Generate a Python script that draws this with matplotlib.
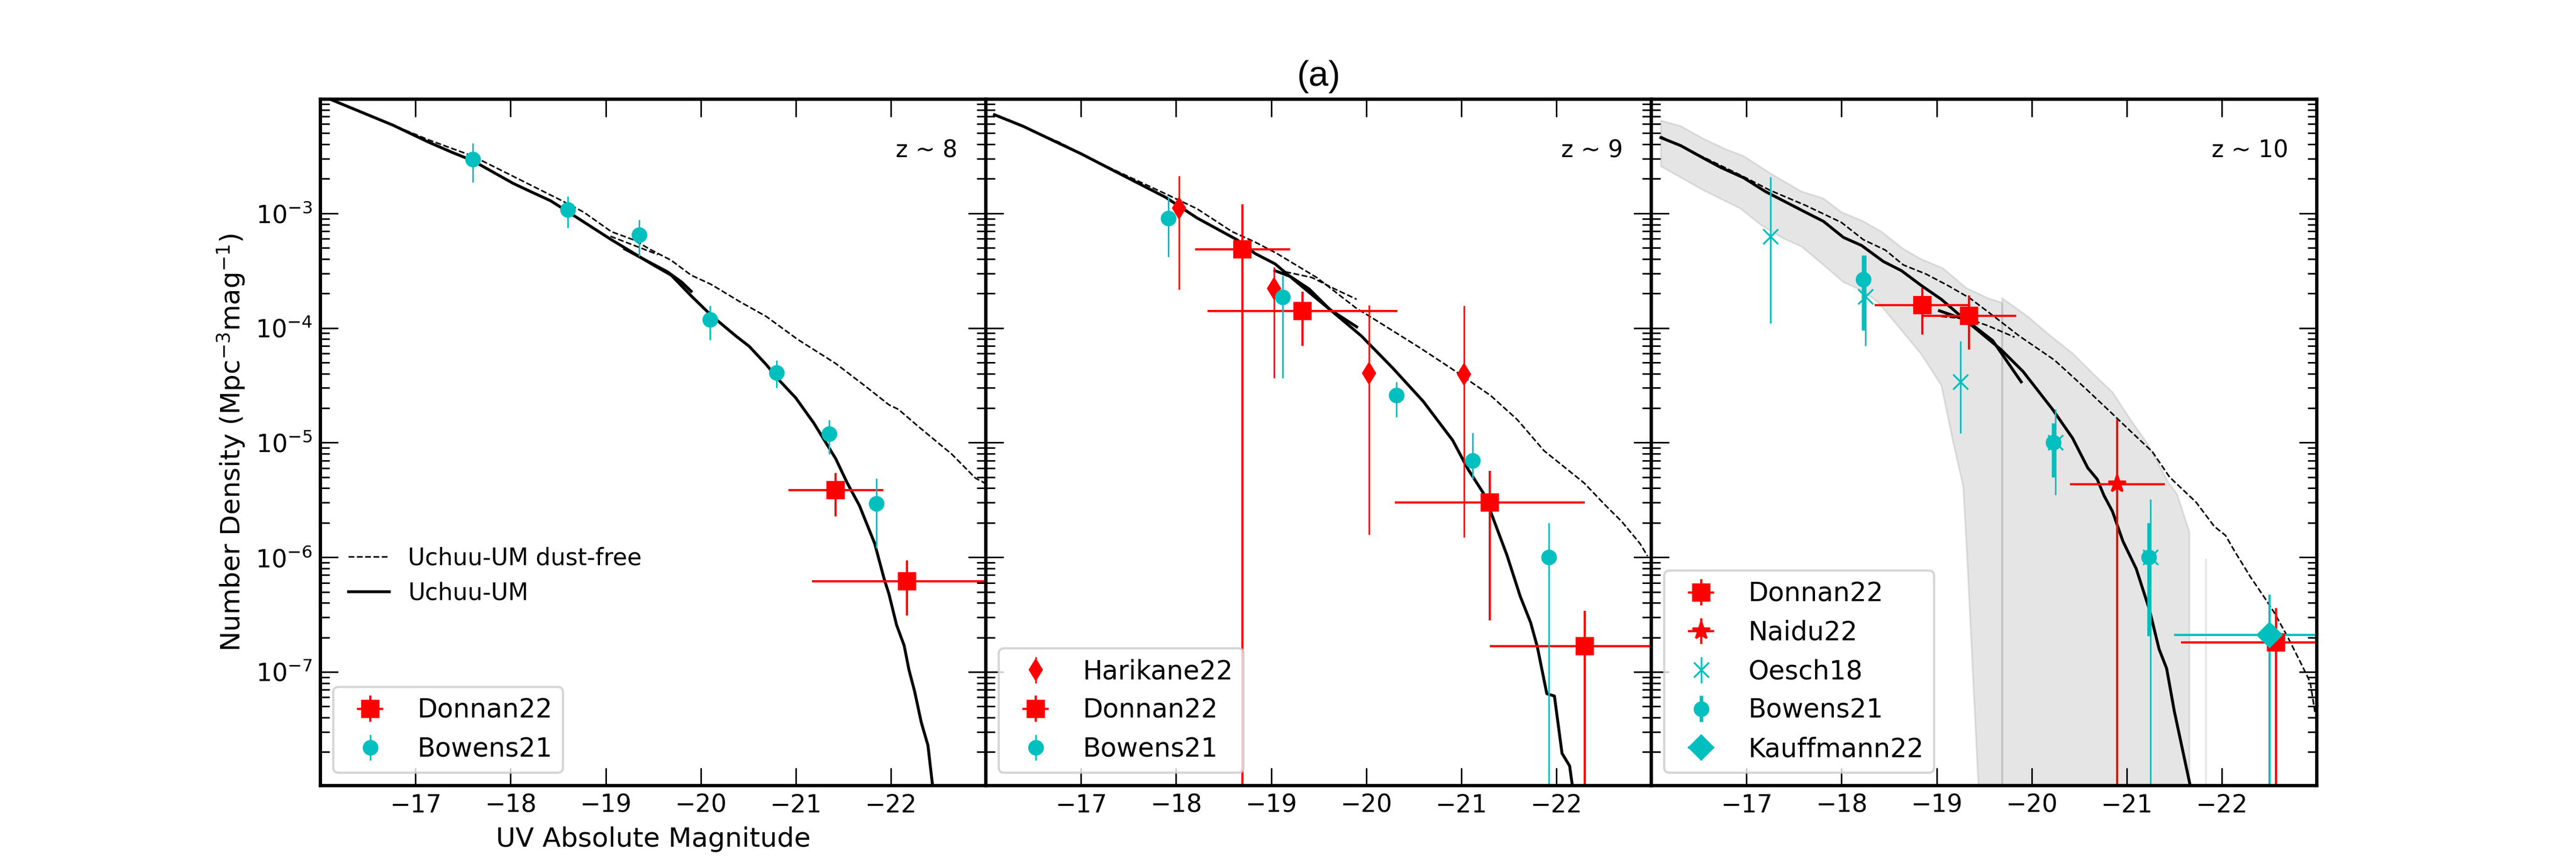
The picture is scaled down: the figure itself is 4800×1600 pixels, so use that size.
import numpy as np
import matplotlib
matplotlib.use('Agg')
import matplotlib.pyplot as plt

# ---------------- model curves: UV magnitude and log10(number density) ----------------
z8_um_M = [-16.00, -16.76, -17.14, -17.39, -17.60, -18.03, -18.21, -18.42, -18.61, -19.06, -19.48,
           -19.69, -19.90, -20.11, -20.37, -20.51, -20.69, -20.83, -21.00, -21.19, -21.42, -21.54,
           -21.67, -21.83, -21.93, -21.98, -22.06, -22.14, -22.19, -22.25, -22.32, -22.39, -22.44]
z8_um_logphi = [-1.97, -2.23, -2.38, -2.47, -2.54, -2.74, -2.81, -2.89, -2.99, -3.23, -3.44,
                -3.54, -3.72, -3.89, -4.07, -4.16, -4.32, -4.46, -4.61, -4.83, -5.14, -5.35,
                -5.55, -5.88, -6.19, -6.32, -6.59, -6.77, -6.98, -7.17, -7.44, -7.64, -8.00]
z8_um2_M = [-19.20, -19.40, -19.65, -19.80, -19.90]
z8_um2_logphi = [-3.31, -3.40, -3.51, -3.60, -3.68]
z8_df_M = [-16.00, -17.14, -17.60, -18.54, -18.77, -19.06, -19.29, -19.48, -19.69, -19.90, -20.11,
           -20.41, -20.69, -21.02, -21.42, -21.72, -21.98, -22.08, -22.29, -22.64, -22.89, -22.96, -23.00]
z8_df_logphi = [-1.97, -2.36, -2.50, -2.89, -2.99, -3.16, -3.23, -3.32, -3.41, -3.54, -3.62,
                -3.77, -3.90, -4.10, -4.31, -4.50, -4.67, -4.71, -4.86, -5.10, -5.31, -5.34, -5.36]
z8_df2_M = [-19.05, -19.30, -19.55]
z8_df2_logphi = [-3.20, -3.28, -3.36]

z9_um_M = [-16.09, -16.39, -16.77, -17.00, -17.42, -17.89, -18.22, -18.64, -18.83, -19.04, -19.27,
           -19.62, -19.95, -20.28, -20.60, -20.91, -21.07, -21.24, -21.48, -21.62, -21.73, -21.80,
           -21.90, -21.98, -22.06, -22.14, -22.17]
z9_um_logphi = [-2.14, -2.24, -2.39, -2.48, -2.66, -2.86, -3.04, -3.23, -3.35, -3.44, -3.60,
                -3.84, -4.07, -4.35, -4.64, -4.98, -5.23, -5.45, -5.98, -6.34, -6.57, -6.78,
                -7.19, -7.21, -7.71, -7.82, -8.00]
z9_um2_M = [-19.04, -19.20, -19.40, -19.62, -19.90]
z9_um2_logphi = [-3.50, -3.55, -3.66, -3.84, -3.99]
z9_df_M = [-16.09, -16.77, -17.19, -17.89, -18.22, -18.59, -18.83, -19.06, -19.48, -19.90, -20.02,
           -20.56, -20.89, -21.31, -21.59, -21.87, -22.29, -22.52, -22.69, -22.88, -22.96]
z9_df_logphi = [-2.14, -2.38, -2.56, -2.83, -2.96, -3.16, -3.25, -3.35, -3.56, -3.83, -3.89,
                -4.17, -4.35, -4.59, -4.80, -5.07, -5.35, -5.55, -5.69, -5.88, -5.99]
z9_df2_M = [-19.15, -19.43, -19.67, -19.90]
z9_df2_logphi = [-3.51, -3.56, -3.66, -3.75]

z10_um_M = [-16.10, -16.31, -16.55, -16.73, -16.97, -17.20, -17.62, -17.81, -18.02, -18.21, -18.44,
            -18.63, -18.84, -19.05, -19.33, -19.68, -19.91, -20.22, -20.43, -20.59, -20.69, -20.76,
            -20.85, -20.96, -21.10, -21.24, -21.34, -21.42, -21.50, -21.59, -21.67]
z10_um_logphi = [-2.34, -2.41, -2.52, -2.60, -2.69, -2.81, -2.99, -3.07, -3.21, -3.28, -3.42,
                 -3.50, -3.63, -3.75, -3.95, -4.19, -4.38, -4.71, -4.96, -5.22, -5.32, -5.46,
                 -5.60, -5.86, -6.10, -6.46, -6.80, -6.97, -7.34, -7.69, -8.00]
z10_um2_M = [-19.03, -19.31, -19.59, -19.89]
z10_um2_logphi = [-3.85, -3.93, -4.11, -4.47]
z10_df_M = [-16.10, -16.97, -17.25, -17.62, -18.00, -18.23, -18.46, -18.65, -18.89, -19.12, -19.35,
            -19.59, -19.87, -20.24, -20.57, -20.80, -21.04, -21.27, -21.45, -21.73, -21.92, -22.04,
            -22.13, -22.30, -22.44, -22.55, -22.69, -22.83, -22.93, -22.98]
z10_df_logphi = [-2.33, -2.68, -2.80, -2.93, -3.08, -3.23, -3.32, -3.45, -3.53, -3.63, -3.74,
                 -3.89, -4.07, -4.28, -4.53, -4.71, -4.90, -5.08, -5.30, -5.52, -5.73, -5.81,
                 -5.94, -6.17, -6.34, -6.48, -6.69, -6.92, -7.09, -7.35]
z10_df2_M = [-19.05, -19.33, -19.54, -19.82]
z10_df2_logphi = [-3.90, -3.92, -3.98, -4.08]

# uncertainty band (z~10), log10 phi ; -8.5 = below the plotted range
band1_up_M = [-16.10, -16.31, -16.55, -16.78, -16.97, -17.25, -17.58, -17.81, -18.00, -18.23,
              -18.42, -18.65, -18.84, -19.07, -19.31, -19.54, -19.69]
band1_up_logphi = [-2.19, -2.24, -2.35, -2.44, -2.50, -2.65, -2.81, -2.87, -2.99, -3.07,
                   -3.16, -3.31, -3.40, -3.48, -3.65, -3.74, -3.78]
band1_lo_M = [-16.10, -16.55, -16.94, -17.15, -17.39, -17.58, -17.81, -18.02, -18.23, -18.39,
              -18.60, -18.84, -19.05, -19.17, -19.28, -19.32, -19.47, -19.69]
band1_lo_logphi = [-2.59, -2.80, -2.96, -3.10, -3.22, -3.29, -3.45, -3.60, -3.68, -3.78,
                   -3.99, -4.23, -4.50, -4.98, -5.38, -5.98, -8.50, -8.50]
band2_up_M = [-19.69, -19.96, -20.20, -20.43, -20.66, -20.85, -21.04, -21.22, -21.44, -21.53, -21.66]
band2_up_logphi = [-3.74, -3.90, -4.07, -4.22, -4.41, -4.56, -4.80, -5.01, -5.35, -5.45, -5.78]
band2_lo_M = [-19.69, -21.66]
band2_lo_logphi = [-8.50, -8.50]
band3_M = [-21.83, -21.83]
band3_logphi = [-6.02, -8.50]

# ---------------- observational data ----------------
BOTTOM = 1e-9  # error bar extends below the plotted range

z8_bow_M = [-17.60, -18.60, -19.35, -20.10, -20.80, -21.35, -21.85]
z8_bow_phi = [2.96e-3, 1.08e-3, 6.5e-4, 1.18e-4, 4.07e-5, 1.19e-5, 2.94e-6]
z8_bow_hi = [4.1e-3, 1.41e-3, 8.8e-4, 1.57e-4, 5.2e-5, 1.58e-5, 4.9e-6]
z8_bow_lo = [1.86e-3, 7.5e-4, 4.2e-4, 7.9e-5, 3.0e-5, 7.9e-6, 1.2e-6]

z8_don_M = [-21.42, -22.17]
z8_don_phi = [3.87e-6, 6.2e-7]
z8_don_xerr = [0.5, 1.0]
z8_don_hi = [5.46e-6, 9.4e-7]
z8_don_lo = [2.28e-6, 3.1e-7]

z9_har_M = [-18.03, -19.03, -20.03, -21.03]
z9_har_phi = [1.11e-3, 2.21e-4, 4.02e-5, 3.94e-5]
z9_har_hi = [2.13e-3, 3.4e-4, 1.58e-4, 1.56e-4]
z9_har_lo = [2.17e-4, 3.67e-5, 1.58e-6, 1.5e-6]

z9_don_M = [-18.70, -19.33, -21.30, -22.30]
z9_don_phi = [4.85e-4, 1.41e-4, 3.0e-6, 1.68e-7]
z9_don_xerr = [0.5, 1.0, 1.0, 1.0]
z9_don_hi = [1.2e-3, 2.07e-4, 5.7e-6, 3.4e-7]
z9_don_lo = [BOTTOM, 6.97e-5, 2.8e-7, BOTTOM]

z9_bow_M = [-17.92, -19.12, -20.32, -21.12, -21.92]
z9_bow_phi = [9.1e-4, 1.85e-4, 2.6e-5, 6.95e-6, 1.0e-6]
z9_bow_hi = [1.39e-3, 2.86e-4, 3.4e-5, 1.22e-5, 2.0e-6]
z9_bow_lo = [4.17e-4, 3.67e-5, 1.67e-5, 4.85e-6, BOTTOM]

z10_don_M = [-18.85, -19.34, -22.57]
z10_don_phi = [1.59e-4, 1.28e-4, 1.8e-7]
z10_don_xerr = [0.5, 0.5, 1.0]
z10_don_hi = [2.24e-4, 1.93e-4, 3.6e-7]
z10_don_lo = [8.75e-5, 6.5e-5, BOTTOM]

z10_nai_M = [-20.90]
z10_nai_phi = [4.35e-6]
z10_nai_xerr = [0.5]
z10_nai_hi = [1.6e-5]
z10_nai_lo = [BOTTOM]

z10_oes_M = [-17.25, -18.25, -19.25, -20.25, -21.25]
z10_oes_phi = [6.3e-4, 1.89e-4, 3.38e-5, 1.0e-5, 1.0e-6]
z10_oes_hi = [2.07e-3, 4.3e-4, 7.7e-5, 1.95e-5, 3.2e-6]
z10_oes_lo = [1.1e-4, 7.0e-5, 1.2e-5, 3.5e-6, BOTTOM]

z10_bow_M = [-18.23, -20.23, -21.23]
z10_bow_phi = [2.65e-4, 1.0e-5, 1.0e-6]
z10_bow_hi = [4.3e-4, 1.48e-5, 2.0e-6]
z10_bow_lo = [9.5e-5, 5.0e-6, 2.06e-7]

z10_kau_M = [-22.50]
z10_kau_phi = [2.1e-7]
z10_kau_xerr = [1.0]
z10_kau_hi = [4.7e-7]
z10_kau_lo = [BOTTOM]

panel_labels = ['z ~ 8', 'z ~ 9', 'z ~ 10']
xticks = [-17, -18, -19, -20, -21, -22]

# ---------------- figure ----------------
plt.rcParams['font.family'] = ['DejaVu Sans']
fig, axes = plt.subplots(1, 3, figsize=(16, 16 / 3), dpi=300, sharey=True)
fig.subplots_adjust(left=0.1244, right=0.8994, bottom=0.0844, top=0.8844, wspace=0)

RED = 'r'
CYAN = 'c'
UM_LW = 1.3
DF_LW = 0.7


def tenpow(a):
    return 10.0 ** np.asarray(a)


def ebar(ax, M, phi, lo, hi, xerr=None, **kw):
    phi = np.asarray(phi)
    yerr = [phi - np.asarray(lo), np.asarray(hi) - phi]
    return ax.errorbar(M, phi, xerr=xerr, yerr=yerr, linestyle='none', capsize=0, **kw)


def curves(ax, um_M, um_l, df_M, df_l, um2_M, um2_l, df2_M, df2_l):
    l1, = ax.plot(df_M, tenpow(df_l), color='k', ls='--', lw=DF_LW)
    l2, = ax.plot(um_M, tenpow(um_l), color='k', ls='-', lw=UM_LW)
    ax.plot(df2_M, tenpow(df2_l), color='k', ls='--', lw=DF_LW)
    ax.plot(um2_M, tenpow(um2_l), color='k', ls='-', lw=UM_LW)
    return l1, l2


ax1, ax2, ax3 = axes

# band (z~10)
for upM, upL, loM, loL in [(band1_up_M, band1_up_logphi, band1_lo_M, band1_lo_logphi),
                           (band2_up_M, band2_up_logphi, band2_lo_M, band2_lo_logphi)]:
    xs = np.concatenate([upM, loM[::-1]])
    ys = tenpow(np.concatenate([upL, loL[::-1]]))
    ax3.fill(xs, ys, color='0.5', alpha=0.2, lw=0.8, zorder=1)
ax3.plot(band3_M, tenpow(band3_logphi), color='0.5', alpha=0.2, lw=0.8, zorder=1)

h_df, h_um = curves(ax1, z8_um_M, z8_um_logphi, z8_df_M, z8_df_logphi,
                    z8_um2_M, z8_um2_logphi, z8_df2_M, z8_df2_logphi)
curves(ax2, z9_um_M, z9_um_logphi, z9_df_M, z9_df_logphi,
       z9_um2_M, z9_um2_logphi, z9_df2_M, z9_df2_logphi)
curves(ax3, z10_um_M, z10_um_logphi, z10_df_M, z10_df_logphi,
       z10_um2_M, z10_um2_logphi, z10_df2_M, z10_df2_logphi)

# z~8 data
ebar(ax1, z8_don_M, z8_don_phi, z8_don_lo, z8_don_hi, xerr=z8_don_xerr, fmt='s', color=RED,
     ms=7, elinewidth=1.0, label='Donnan22')
ebar(ax1, z8_bow_M, z8_bow_phi, z8_bow_lo, z8_bow_hi, fmt='o', color=CYAN,
     ms=6, elinewidth=0.7, label='Bowens21')

# z~9 data
ebar(ax2, z9_har_M, z9_har_phi, z9_har_lo, z9_har_hi, fmt='d', color=RED,
     ms=6, elinewidth=0.7, label='Harikane22')
ebar(ax2, z9_don_M, z9_don_phi, z9_don_lo, z9_don_hi, xerr=z9_don_xerr, fmt='s', color=RED,
     ms=7, elinewidth=1.0, label='Donnan22')
ebar(ax2, z9_bow_M, z9_bow_phi, z9_bow_lo, z9_bow_hi, fmt='o', color=CYAN,
     ms=6, elinewidth=0.7, label='Bowens21')

# z~10 data
ebar(ax3, z10_don_M, z10_don_phi, z10_don_lo, z10_don_hi, xerr=z10_don_xerr, fmt='s', color=RED,
     ms=7, elinewidth=1.0, label='Donnan22')
ebar(ax3, z10_nai_M, z10_nai_phi, z10_nai_lo, z10_nai_hi, xerr=z10_nai_xerr, fmt='*', color=RED,
     ms=8, elinewidth=1.0, label='Naidu22')
ebar(ax3, z10_oes_M, z10_oes_phi, z10_oes_lo, z10_oes_hi, fmt='x', color=CYAN,
     ms=6.5, mew=0.8, elinewidth=0.7, label='Oesch18')
ebar(ax3, z10_bow_M, z10_bow_phi, z10_bow_lo, z10_bow_hi, fmt='o', color=CYAN,
     ms=6, elinewidth=1.6, label='Bowens21')
ebar(ax3, z10_kau_M, z10_kau_phi, z10_kau_lo, z10_kau_hi, xerr=z10_kau_xerr, fmt='D', color=CYAN,
     ms=7.5, elinewidth=1.0, label='Kauffmann22')

for ax, lab in zip(axes, panel_labels):
    ax.set_yscale('log')
    ax.set_xlim(-16, -23)
    ax.set_ylim(1.02e-8, 9.9e-3)
    ax.set_xticks(xticks)
    ax.set_xticklabels([f'\u2212{abs(t)}' for t in xticks])
    ax.xaxis.set_minor_locator(matplotlib.ticker.NullLocator())
    ax.tick_params(which='both', direction='in', top=True, right=True, labelsize=11)
    ax.tick_params(which='major', length=8, width=0.7)
    ax.tick_params(which='minor', length=4, width=0.7)
    for sp in ax.spines.values():
        sp.set_linewidth(1.5)
    ax.text(0.957, 0.925, lab, transform=ax.transAxes, ha='right', va='center', fontsize=10.5)
    ax.legend(loc='lower left', fontsize=11.7)

# line legend in first panel
data_leg = ax1.get_legend()
line_leg = ax1.legend([h_df, h_um], ['Uchuu-UM dust-free', 'Uchuu-UM'], loc='lower left',
                      bbox_to_anchor=(0.01, 0.233), frameon=False, fontsize=10.5, handlelength=1.75)
ax1.add_artist(data_leg)

ax1.set_xlabel('UV Absolute Magnitude', fontsize=12)
ax1.set_ylabel('Number Density (Mpc$^{-3}$mag$^{-1}$)', fontsize=12)
ax2.set_title('(a)', fontsize=16, family=['Liberation Sans Narrow', 'Liberation Sans'])

fig.savefig('out.png', dpi=300)
